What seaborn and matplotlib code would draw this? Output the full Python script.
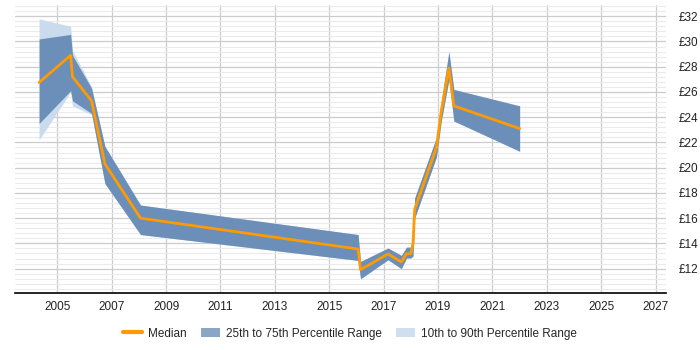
import matplotlib
matplotlib.use("Agg")
import matplotlib.pyplot as plt
import seaborn as sns
import pandas as pd
from matplotlib.lines import Line2D
from matplotlib.patches import Patch
from matplotlib.ticker import MultipleLocator, FuncFormatter

years = [2004.33, 2005.49, 2005.56, 2006.26, 2006.75, 2008.06, 2016.06, 2016.15,
         2017.16, 2017.65, 2017.84, 2018.0, 2018.08, 2018.14, 2018.94, 2019.12,
         2019.40, 2019.58, 2022.0]
median = [26.75, 28.9, 27.2, 25.3, 20.3, 16.0, 13.55, 11.92, 13.16, 12.53, 13.18,
          13.18, 14.0, 16.7, 21.6, 24.5, 27.9, 24.9, 23.1]
p75 = [30.2, 30.56, 28.9, 26.3, 21.7, 17.04, 14.7, 12.57, 13.63, 13.05, 13.7,
       13.7, 14.6, 17.6, 22.4, 25.3, 29.2, 26.2, 24.9]
p25 = [23.5, 26.1, 25.3, 24.3, 18.75, 14.7, 12.65, 11.2, 12.7, 12.0, 12.84,
       12.84, 13.0, 16.0, 20.85, 23.7, 27.0, 23.7, 21.3]
p90 = [31.8, 31.2, 29.3, 26.4, 21.7, 17.04, 14.7, 12.57, 13.63, 13.05, 13.7,
       13.7, 14.6, 17.6, 22.4, 25.3, 29.2, 26.2, 24.9]
p10 = [22.2, 26.0, 24.9, 24.2, 18.75, 14.7, 12.65, 11.2, 12.7, 12.0, 12.84,
       12.84, 13.0, 16.0, 20.85, 23.7, 27.0, 23.7, 21.3]
xticks = list(range(2005, 2028, 2))
yticks = list(range(12, 33, 2))

df = pd.DataFrame({"year": years, "median": median, "p25": p25, "p75": p75,
                   "p10": p10, "p90": p90})

sns.set_style("white")
plt.rcParams['font.family'] = ['Liberation Sans', 'DejaVu Sans']

fig = plt.figure(figsize=(7, 3.5), dpi=100)
ax = fig.add_axes([0.022, 0.164, 0.929, 0.822])

light = "#c9dbed"
dark = "#6b8fb9"
orange = "#ff9a00"

ax.fill_between(df["year"], df["p10"], df["p90"], color=light, lw=0, zorder=2)
ax.fill_between(df["year"], df["p25"], df["p75"], color=dark, lw=0, zorder=3)
sns.lineplot(data=df, x="year", y="median", ax=ax, color=orange, lw=2, zorder=4,
             sort=False, estimator=None)

ax.set_xlim(2003.46, 2027.37)
ax.set_ylim(10.1, 32.9)
ax.set_xticks(xticks)
ax.set_yticks(yticks)
ax.yaxis.set_minor_locator(MultipleLocator(0.4))
ax.yaxis.tick_right()
ax.yaxis.set_major_formatter(FuncFormatter(lambda v, p: f"£{int(v)}"))
ax.set_xlabel("")
ax.set_ylabel("")
ax.grid(which="major", axis="both", color="#cccccc", lw=0.9, zorder=0)
ax.grid(which="minor", axis="y", color="#ebebeb", lw=0.8, zorder=0)
ax.set_axisbelow(True)
for s in ["top", "left", "right"]:
    ax.spines[s].set_visible(False)
ax.spines["bottom"].set_color("black")
ax.spines["bottom"].set_linewidth(1.2)
ax.tick_params(axis="both", which="both", length=0, labelsize=8.5, colors="#222222")
ax.tick_params(axis="x", pad=6)
ax.tick_params(axis="y", pad=9)

handles = [Line2D([0], [0], color=orange, lw=3),
           Patch(facecolor="#8aa6c6", edgecolor="none"),
           Patch(facecolor="#cfdff0", edgecolor="none")]
labels = ["Median", "25th to 75th Percentile Range", "10th to 90th Percentile Range"]
fig.legend(handles, labels, loc="center", bbox_to_anchor=(0.5, 0.047), ncol=3,
           frameon=False, fontsize=8.5, handlelength=1.6, handletextpad=0.5,
           columnspacing=1.2)

fig.savefig("out.png", dpi=100)
